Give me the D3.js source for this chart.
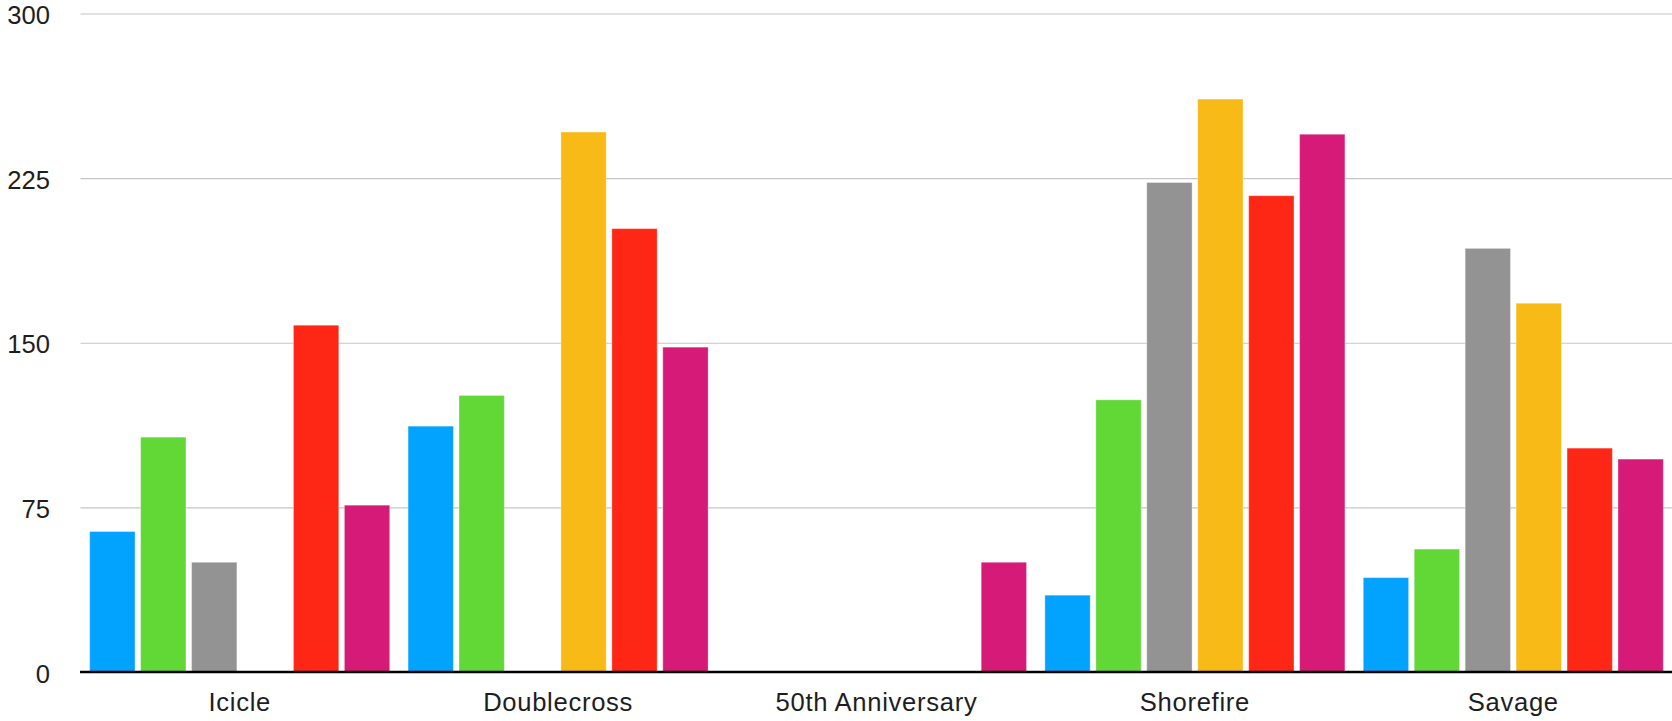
<!DOCTYPE html>
<html>
<head>
<meta charset="utf-8">
<script src="https://cdn.jsdelivr.net/npm/d3@7"></script>
<style>
  html, body { margin: 0; padding: 0; background: #fff; }
  svg { display: block; }
  text { font-family: "Liberation Sans", Arial, Helvetica, sans-serif; fill: #1e1e1e; }
</style>
</head>
<body>
<svg id="chart" width="1672" height="721"></svg>
<script>
const categories = ["Icicle", "Doublecross", "50th Anniversary", "Shorefire", "Savage"];
const seriesNames = ["Series 1", "Series 2", "Series 3", "Series 4", "Series 5", "Series 6"];
const series1 = [64, 112, 0, 35, 43];
const series2 = [107, 126, 0, 124, 56];
const series3 = [50, 0, 0, 223, 193];
const series4 = [0, 246, 0, 261, 168];
const series5 = [158, 202, 0, 217, 102];
const series6 = [76, 148, 50, 245, 97];
const yTicks = [0, 75, 150, 225, 300];
const colors = ["#02A3FE", "#61D836", "#939393", "#F8BA16", "#FE2716", "#D51A77"];

const allSeries = [series1, series2, series3, series4, series5, series6];

const svg = d3.select("#chart");
const mLeft = 80.5, mRight = 1672.5, mTop = 13.5, mBottom = 672;

const x0 = d3.scaleBand().domain(categories).range([mLeft, mRight]).paddingInner(0).paddingOuter(0);
const x1 = d3.scaleBand().domain(seriesNames).range([0, x0.bandwidth()]).paddingInner(0.11).paddingOuter(0.18);
const y = d3.scaleLinear().domain([0, 300]).range([mBottom, mTop]);

// gridlines
const grid = svg.append("g")
  .attr("transform", `translate(${mLeft},0)`)
  .call(d3.axisLeft(y).tickValues(yTicks).tickSize(-(mRight - mLeft)).tickFormat(""));
grid.select(".domain").remove();
grid.selectAll("line").attr("stroke", "#c6c6c6").attr("stroke-width", 1.2);

// y labels
const yAxis = svg.append("g")
  .attr("transform", `translate(50,0)`)
  .call(d3.axisLeft(y).tickValues(yTicks).tickSize(0).tickPadding(0));
yAxis.select(".domain").remove();
yAxis.selectAll("text")
  .attr("font-size", 25.6)
  .attr("dy", null)
  .attr("y", 10)
  .attr("text-anchor", "end")
  .style("font-family", "'Liberation Sans', Arial, sans-serif")
  .attr("fill", "#1e1e1e");

// bars
const groups = svg.append("g").selectAll("g")
  .data(categories)
  .join("g")
  .attr("transform", d => `translate(${x0(d)},0)`);

groups.selectAll("rect")
  .data((d, i) => allSeries.map((s, k) => ({ key: seriesNames[k], value: s[i], color: colors[k] })).filter(e => e.value > 0))
  .join("rect")
  .attr("x", d => x1(d.key))
  .attr("width", x1.bandwidth())
  .attr("y", d => y(d.value))
  .attr("height", d => y(0) - y(d.value))
  .attr("fill", d => d.color)
  .attr("stroke", "rgba(255,255,255,0.35)")
  .attr("stroke-width", 1);

// baseline + category labels
const xAxis = svg.append("g")
  .attr("transform", `translate(0,${mBottom})`)
  .call(d3.axisBottom(x0).tickSize(0).tickPadding(0));
xAxis.select(".domain").attr("stroke", "#000").attr("stroke-width", 2.4)
  .attr("d", `M${mLeft - 0.5},0H${mRight}`);
xAxis.selectAll("text")
  .attr("font-size", 25.6)
  .attr("dy", null)
  .attr("y", 39)
  .attr("letter-spacing", 0.7)
  .style("font-family", "'Liberation Sans', Arial, sans-serif")
  .attr("fill", "#1e1e1e");
</script>
</body>
</html>
